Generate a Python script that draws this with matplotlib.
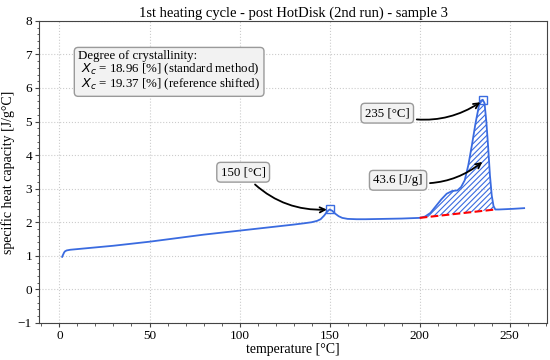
import numpy as np
import matplotlib
matplotlib.use('Agg')
import matplotlib.pyplot as plt
from matplotlib.ticker import MultipleLocator

# temperature [°C] and specific heat capacity [J/g°C]
temp = [1.5, 2.0, 2.5, 3.0, 4.0, 6.0, 10, 20, 30, 40, 50, 60, 70, 80, 90, 100, 110, 120,
        130, 136, 140, 143, 145, 147, 148.5, 150, 151.5, 153, 155, 157, 160, 165, 170,
        180, 190, 200, 203, 206, 209, 212, 215, 218, 221, 223, 225, 227, 229, 231, 233,
        234, 235, 236, 237, 238, 239, 240, 241, 242, 244, 248, 252, 258]
cp = [0.97, 1.03, 1.09, 1.13, 1.16, 1.18, 1.20, 1.25, 1.30, 1.36, 1.42, 1.49, 1.56, 1.63, 1.69, 1.75,
      1.81, 1.87, 1.93, 1.97, 2.00, 2.04, 2.09, 2.20, 2.31, 2.38, 2.34, 2.26, 2.18, 2.13, 2.10, 2.09, 2.09,
      2.10, 2.11, 2.13, 2.17, 2.28, 2.48, 2.68, 2.85, 2.93, 2.95, 3.05, 3.25, 3.70, 4.30, 4.95, 5.50,
      5.62, 5.65, 5.55, 5.00, 4.25, 3.40, 2.80, 2.48, 2.38, 2.38, 2.39, 2.40, 2.42]

# melting integration limits and linear baseline
base_t = [200, 242]
base_cp = [2.13, 2.38]

peak1_t, peak1_cp = 150, 2.38
peak2_t, peak2_cp = 235, 5.65
enthalpy = 43.6
xc_std = 18.96
xc_ref = 19.37

plt.rcParams['font.family'] = ['Liberation Serif', 'DejaVu Serif']
plt.rcParams['font.size'] = 10

blue = '#3a6be0'

fig = plt.figure(figsize=(5.5, 3.6), dpi=100)
ax = fig.add_axes([0.071, 0.103, 0.924, 0.839])

t = np.array(temp)
c = np.array(cp)
ax.plot(t, c, color=blue, lw=1.3, zorder=3)

# hatched melting area between curve and baseline
mask = (t >= base_t[0]) & (t <= base_t[1])
bl = np.interp(t[mask], base_t, base_cp)
plt.rcParams['hatch.linewidth'] = 0.8
ax.fill_between(t[mask], bl, c[mask], facecolor='none', edgecolor=blue,
                hatch='//////', lw=0, zorder=2)
ax.plot(base_t, base_cp, color='red', ls='--', lw=1.5, zorder=4)

ax.plot([peak1_t, peak2_t], [peak1_cp, peak2_cp], ls='none', marker='s', ms=6,
        mfc='none', mec=blue, mew=1, zorder=5)

box = dict(boxstyle='round,pad=0.3', fc='#f2f2f2', ec='#9a9a9a')
arrow = dict(arrowstyle='->', color='black', lw=1.3, connectionstyle='arc3,rad=0.25')
ax.annotate(f'{peak1_t} [°C]', xy=(peak1_t, peak1_cp), xytext=(102, 3.49),
            ha='center', va='center', bbox=box, arrowprops=arrow, fontsize=9.3, zorder=6)
ax.annotate(f'{peak2_t} [°C]', xy=(235, 5.62), xytext=(182, 5.25),
            ha='center', va='center', bbox=box, arrowprops=arrow, fontsize=9.3, zorder=6)
ax.annotate(f'{enthalpy} [J/g]', xy=(236, 3.85), xytext=(188, 3.25),
            ha='center', va='center', bbox=box, arrowprops=arrow, fontsize=9.3, zorder=6)

ax.text(0.077, 0.905, 'Degree of crystallinity:\n'
        f' $X_c$ = {xc_std} [%] (standard method)\n'
        f' $X_c$ = {xc_ref} [%] (reference shifted)',
        transform=ax.transAxes, ha='left', va='top', linespacing=1.0, fontsize=9.3,
        bbox=dict(boxstyle='round,pad=0.3', fc='#f2f2f2', ec='#9a9a9a'), zorder=6)

ax.set_ylim(-1, 8)
ax.set_xticks([0, 50, 100, 150, 200, 250])
ax.xaxis.set_minor_locator(MultipleLocator(10))
ax.yaxis.set_minor_locator(MultipleLocator(0.2))
ax.grid(True, which='major', ls=':', color='#cccccc', lw=0.8)
for s in ax.spines.values():
    s.set_color('#444444')
ax.tick_params(which='major', length=3, pad=2, colors='#444444', labelcolor='black',
               labelsize=9.5)
ax.tick_params(which='minor', length=1.8, colors='#444444')

ax.set_title('1st heating cycle - post HotDisk (2nd run) - sample 3', fontsize=10.5, pad=3)
ax.set_xlabel('temperature [°C]', labelpad=1)
ax.set_ylabel('specific heat capacity [J/g°C]', labelpad=2)

fig.savefig('out.png', dpi=100)
